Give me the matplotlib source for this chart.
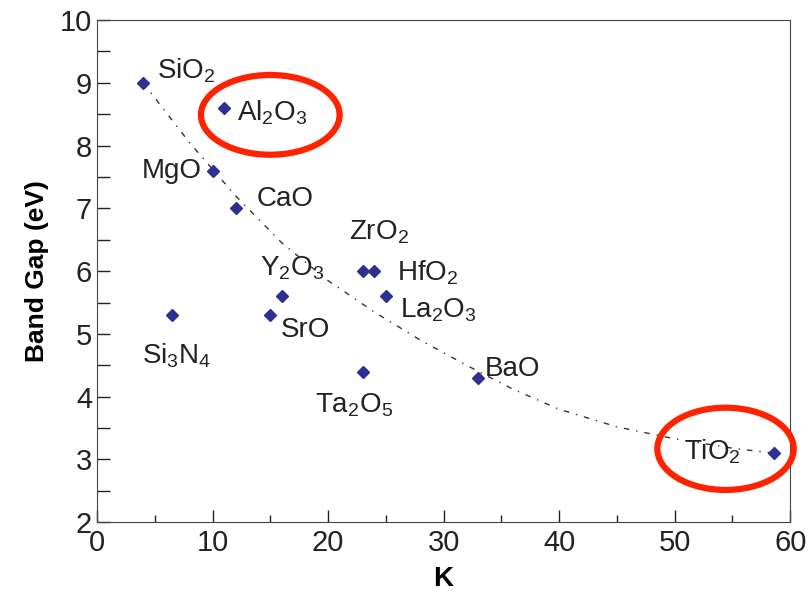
import matplotlib as mpl
mpl.use('Agg')
import matplotlib.pyplot as plt
from matplotlib.patches import Ellipse
from matplotlib.ticker import MultipleLocator

plt.rcParams['font.family'] = ['Liberation Sans', 'DejaVu Sans']
plt.rcParams['mathtext.fontset'] = 'custom'
plt.rcParams['mathtext.rm'] = 'Liberation Sans'
plt.rcParams['mathtext.it'] = 'Liberation Sans'

# data
names = ['SiO$_2$', 'Al$_2$O$_3$', 'MgO', 'CaO', 'ZrO$_2$', 'HfO$_2$', 'Y$_2$O$_3$',
         'La$_2$O$_3$', 'SrO', 'Si$_3$N$_4$', 'Ta$_2$O$_5$', 'BaO', 'TiO$_2$']
k_vals = [4, 11, 10, 12, 23, 24, 16, 25, 15, 6.5, 23, 33, 58.6]
gaps = [9.0, 8.6, 7.6, 7.0, 6.0, 6.0, 5.6, 5.6, 5.3, 5.3, 4.4, 4.3, 3.1]

# label anchor points (K, eV)
label_x = [5.2, 12.1, 9.1, 13.8, 21.8, 26.0, 14.1, 26.2, 15.9, 3.9, 18.9, 33.6, 50.8]
label_y = [9.2, 8.53, 7.6, 7.15, 6.62, 5.97, 6.05, 5.38, 5.06, 4.66, 3.87, 4.44, 3.13]
label_ha = ['left', 'left', 'right', 'left', 'left', 'left', 'left', 'left', 'left',
            'left', 'left', 'left', 'left']

# dotted trend curve
trend_k = [4, 8, 12, 16, 20, 24, 28, 32, 36, 40, 45, 50, 55, 58.6]
trend_gap = [9.0, 8.05, 7.2, 6.45, 5.85, 5.35, 4.9, 4.5, 4.12, 3.8, 3.52, 3.33, 3.18, 3.1]

# highlighted materials: (center K, center eV, width, height)
circles = [(15.0, 8.49, 12.0, 1.27), (54.4, 3.17, 11.8, 1.31)]

fig = plt.figure(figsize=(8.08, 6.08), dpi=100)
ax = fig.add_axes([0.12, 0.141, 0.858, 0.826])

ax.plot(trend_k, trend_gap, color='#333333', lw=1.0, linestyle=(0, (4, 5, 1, 5)), zorder=1)
ax.plot(k_vals, gaps, 'D', color='#2e3192', ms=6.5, zorder=3)

for n, x, y, ha in zip(names, label_x, label_y, label_ha):
    ax.text(x, y, n, fontsize=20, ha=ha, va='center', color='#222222')

for cx, cy, w, h in circles:
    ax.add_patch(Ellipse((cx, cy), w, h, fill=False, edgecolor='#ff2200', lw=4.5,
                         clip_on=False, zorder=4))

ax.set_xlim(0, 60)
ax.set_ylim(2, 10)
ax.xaxis.set_major_locator(MultipleLocator(10))
ax.xaxis.set_minor_locator(MultipleLocator(5))
ax.yaxis.set_major_locator(MultipleLocator(1))
ax.yaxis.set_minor_locator(MultipleLocator(0.5))
ax.tick_params(which='both', direction='in', colors='#222222', labelsize=21)
ax.tick_params(which='major', length=9, width=1)
ax.tick_params(axis='x', which='minor', length=5, width=1)
ax.tick_params(axis='y', which='minor', length=9, width=1)
ax.tick_params(axis='x', pad=5)
for s in ax.spines.values():
    s.set_color('#444444')

ax.set_xlabel('K', fontsize=20, fontweight='bold', labelpad=6)
ax.set_ylabel('Band Gap (eV)', fontsize=19, fontweight='bold', labelpad=8)

plt.savefig('out.png', dpi=100)
